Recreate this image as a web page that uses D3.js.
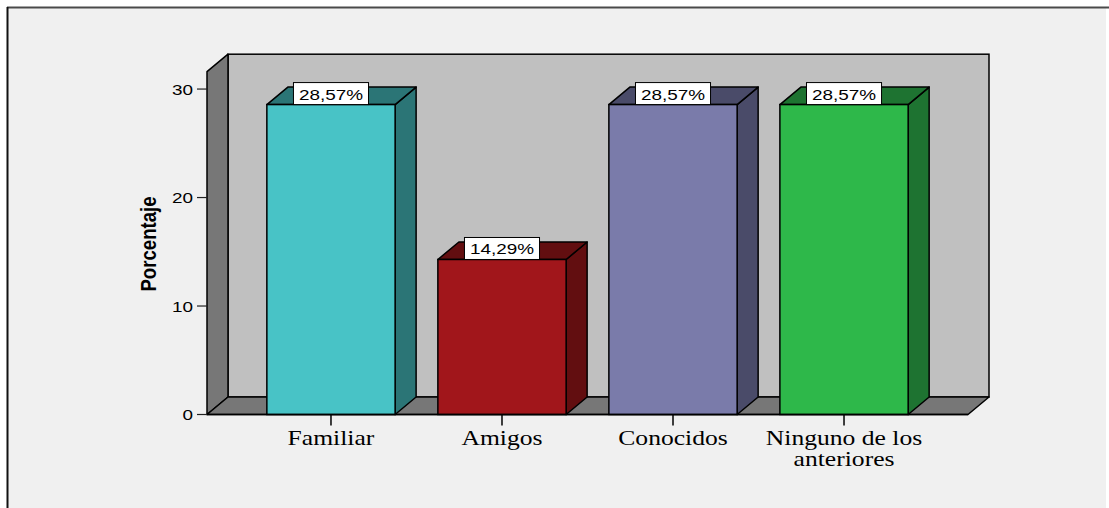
<!DOCTYPE html>
<html>
<head>
<meta charset="utf-8">
<script src="https://cdn.jsdelivr.net/npm/d3@7"></script>
<style>
  html, body { margin: 0; padding: 0; background: #ffffff; }
  svg { display: block; }
</style>
</head>
<body>
<svg id="chart" width="1109" height="508"></svg>
<script>
// Data
const categories = ["Familiar", "Amigos", "Conocidos", "Ninguno de los anteriores"];
const categoryLines = [["Familiar"], ["Amigos"], ["Conocidos"], ["Ninguno de los", "anteriores"]];
const percentages = [28.57, 14.29, 28.57, 28.57];
const valueLabels = ["28,57%", "14,29%", "28,57%", "28,57%"];
const yTicks = [0, 10, 20, 30];
const frontColors = ["#48c3c6", "#a1161b", "#7a7baa", "#2eb84a"];
const sideColors = ["#2b7576", "#620e10", "#4a4b69", "#1e7331"];

const svg = d3.select("#chart");
const sx = 1.22;             // horizontal text stretch
const depth = { dx: 21, dy: -17.5 };

// Frame
svg.append("rect").attr("x", 8).attr("y", 8).attr("width", 1098).attr("height", 520)
  .attr("fill", "#f0f0f0");
svg.append("line").attr("x1", 7).attr("x2", 1109).attr("y1", 7.5).attr("y2", 7.5)
  .attr("stroke", "#4a4a4a").attr("stroke-width", 2);
svg.append("line").attr("x1", 7.5).attr("x2", 7.5).attr("y1", 7).attr("y2", 508)
  .attr("stroke", "#111").attr("stroke-width", 2);

// Scales
const x = d3.scaleBand().domain(categories).range([207, 968])
  .paddingInner(0.25).paddingOuter(0.35);
const y = d3.scaleLinear().domain([0, 31.6]).range([414.5, 71.7]);

const x0 = x.range()[0], x1 = x.range()[1];
const yTop = y.domain()[1];
const line = d3.line();

// Back wall
svg.append("rect")
  .attr("x", x0 + depth.dx).attr("y", y(yTop) + depth.dy)
  .attr("width", x1 - x0).attr("height", y(0) - y(yTop))
  .attr("fill", "#c0c0c0").attr("stroke", "#000").attr("stroke-width", 1.5);

// Left side wall
svg.append("path")
  .attr("d", line([[x0, y(yTop)], [x0 + depth.dx, y(yTop) + depth.dy],
                   [x0 + depth.dx, y(0) + depth.dy], [x0, y(0)]]) + "Z")
  .attr("fill", "#777777").attr("stroke", "#000").attr("stroke-width", 1.5)
  .attr("stroke-linejoin", "round");

// Floor
svg.append("path")
  .attr("d", line([[x0, y(0)], [x0 + depth.dx, y(0) + depth.dy],
                   [x1 + depth.dx, y(0) + depth.dy], [x1, y(0)]]) + "Z")
  .attr("fill", "#777777").attr("stroke", "#000").attr("stroke-width", 1.5)
  .attr("stroke-linejoin", "round");

// Bars
const bars = svg.append("g").selectAll("g").data(categories).join("g");
bars.each(function(c, i) {
  const g = d3.select(this);
  const bx0 = x(c), bx1 = x(c) + x.bandwidth();
  const yv = y(percentages[i]), yb = y(0);
  // side face
  g.append("path")
    .attr("d", line([[bx1, yv], [bx1 + depth.dx, yv + depth.dy],
                     [bx1 + depth.dx, yb + depth.dy], [bx1, yb]]) + "Z")
    .attr("fill", sideColors[i]).attr("stroke", "#000").attr("stroke-width", 1.5)
    .attr("stroke-linejoin", "round");
  // top face
  g.append("path")
    .attr("d", line([[bx0, yv], [bx0 + depth.dx, yv + depth.dy],
                     [bx1 + depth.dx, yv + depth.dy], [bx1, yv]]) + "Z")
    .attr("fill", sideColors[i]).attr("stroke", "#000").attr("stroke-width", 1.5)
    .attr("stroke-linejoin", "round");
  // front face
  g.append("rect")
    .attr("x", bx0).attr("y", yv).attr("width", bx1 - bx0).attr("height", yb - yv)
    .attr("fill", frontColors[i]).attr("stroke", "#000").attr("stroke-width", 1.5);
});

// Front floor edge
svg.append("line").attr("x1", x0).attr("x2", x1).attr("y1", y(0)).attr("y2", y(0))
  .attr("stroke", "#000").attr("stroke-width", 1.5);

// Helper: horizontally stretched text
function stretchedText(parent, tx, ty, str, opts) {
  const g = parent.append("g").attr("transform", `translate(${tx},${ty}) scale(${sx},1)`);
  const t = g.append("text").text(str)
    .attr("text-anchor", opts.anchor || "middle")
    .attr("font-family", opts.family)
    .attr("font-size", opts.size)
    .attr("font-weight", opts.weight || "normal")
    .attr("fill", "#000");
  return t;
}

// Value labels
bars.each(function(c, i) {
  const g = d3.select(this);
  const cx = x(c) + x.bandwidth() / 2;
  const yv = y(percentages[i]);
  const box = g.append("rect").attr("fill", "#fff").attr("stroke", "#000").attr("stroke-width", 1);
  const t = stretchedText(g, cx, yv - 5, valueLabels[i],
    { family: "'Liberation Sans', Arial, sans-serif", size: 15.5 });
  const w = t.node().getComputedTextLength() * sx + 11;
  box.attr("x", cx - w / 2).attr("y", yv - 22).attr("width", w).attr("height", 22);
});

// Y axis ticks and labels
const yAxis = svg.append("g");
yTicks.forEach(v => {
  yAxis.append("line").attr("x1", x0 - 10).attr("x2", x0).attr("y1", y(v)).attr("y2", y(v))
    .attr("stroke", "#222").attr("stroke-width", 1.2);
  stretchedText(yAxis, x0 - 14, y(v) + 5.5, String(v),
    { family: "'Liberation Sans', Arial, sans-serif", size: 15.5, anchor: "end" });
});

// Y axis title
svg.append("text")
  .attr("transform", `translate(156,244) rotate(-90) scale(1,${sx})`)
  .attr("text-anchor", "middle")
  .attr("font-family", "'Liberation Sans', Arial, sans-serif")
  .attr("font-weight", "bold").attr("font-size", 18.6)
  .text("Porcentaje");

// X axis ticks and category labels (wrapped lines share one text element)
const xAxis = svg.append("g");
categories.forEach((c, i) => {
  const cx = x(c) + x.bandwidth() / 2;
  xAxis.append("line").attr("x1", cx).attr("x2", cx).attr("y1", y(0)).attr("y2", y(0) + 11)
    .attr("stroke", "#000").attr("stroke-width", 1.5);
  const g = xAxis.append("g").attr("transform", `translate(${cx},445) scale(${sx},1)`);
  const t = g.append("text")
    .attr("text-anchor", "middle")
    .attr("font-family", "'Liberation Serif', 'Times New Roman', serif")
    .attr("font-size", 21)
    .attr("fill", "#000");
  categoryLines[i].forEach((ln, j) => {
    t.append("tspan").attr("x", 0).attr("y", j * 21).text(ln);
  });
});
</script>
</body>
</html>
